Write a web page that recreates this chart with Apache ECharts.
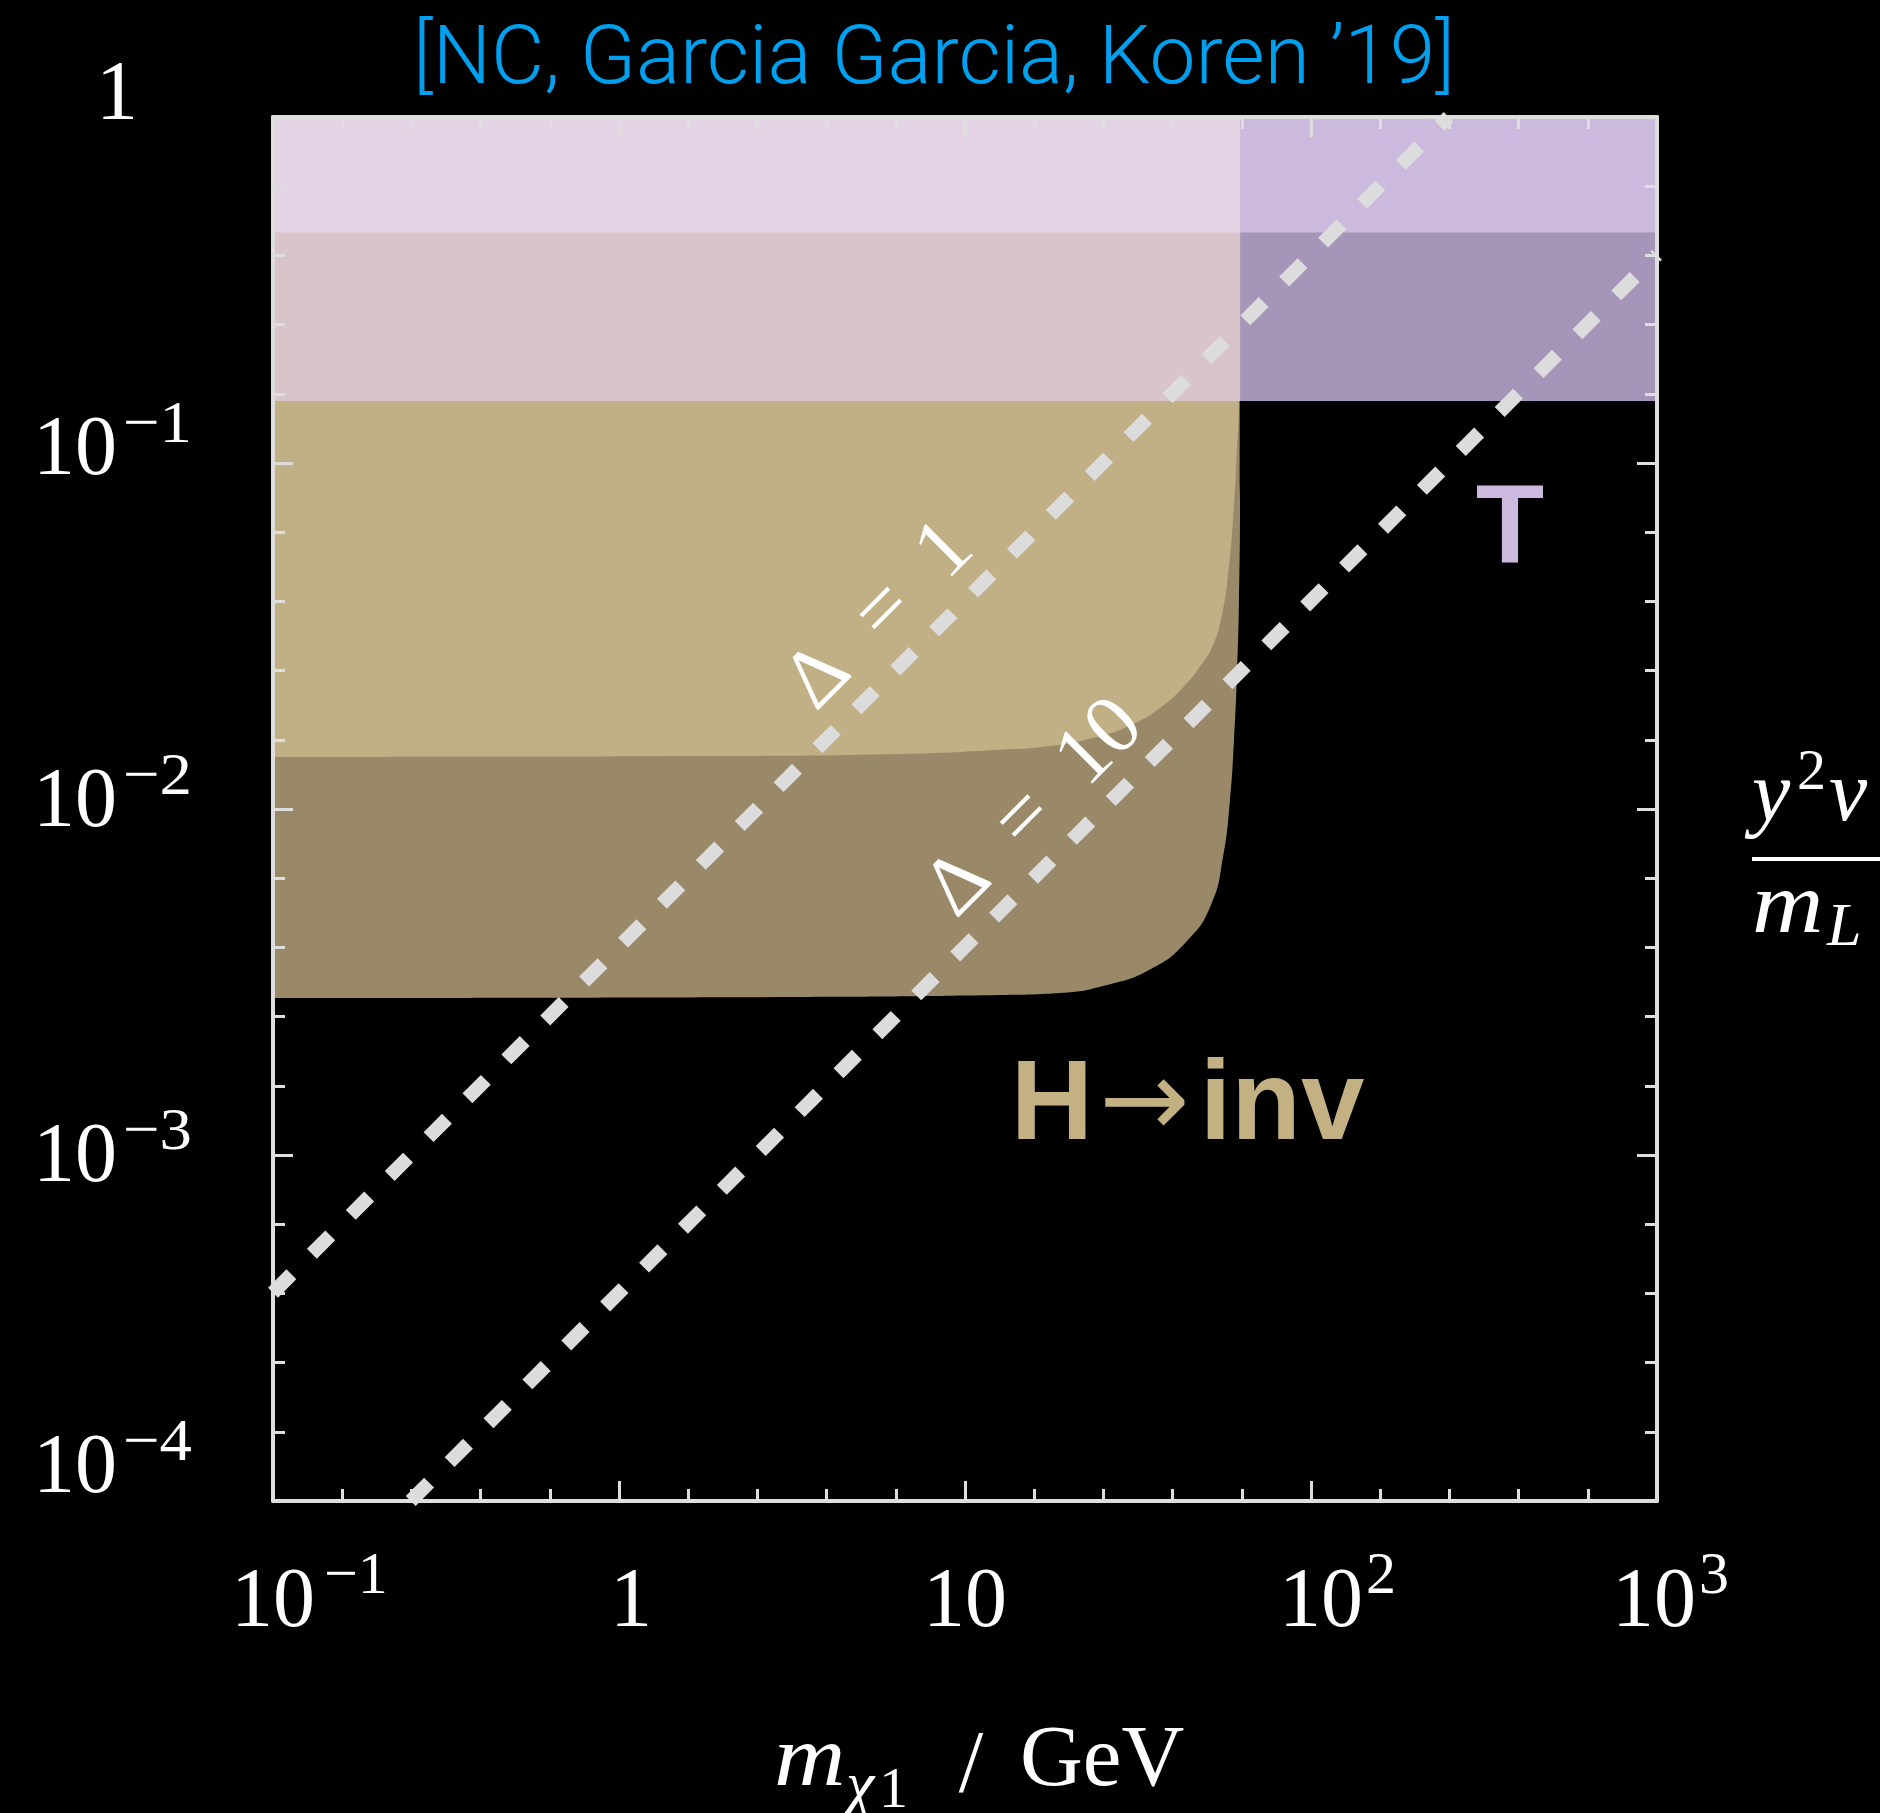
<!DOCTYPE html>
<html>
<head>
<meta charset="utf-8">
<script src="https://cdn.jsdelivr.net/npm/echarts@6/dist/echarts.min.js"></script>
<style>
  html, body { margin: 0; padding: 0; background: #000; }
  #chart { width: 1880px; height: 1813px; }
</style>
</head>
<body>
<div id="chart"></div>
<script>
// Axes: m_chi1 in GeV (log), y^2 v / m_L (log)
const xTickValues = [0.1, 1, 10, 100, 1000];
const xTickText = [['10', '\u22121'], ['1', ''], ['10', ''], ['10', '2'], ['10', '3']];
const yTickValues = [1, 0.1, 0.01, 0.001, 0.0001];
const yTickText = [['1', ''], ['10', '\u22121'], ['10', '\u22122'], ['10', '\u22123'], ['10', '\u22124']];

// H -> inv: excluded above each boundary [m_chi1, y^2 v / m_L]
const hinvStrong = [
  [0.1, 0.01413], [1.71, 0.01422], [6.48, 0.01442], [12.6, 0.01483], [17.6, 0.0152],
  [24.6, 0.01625], [30.6, 0.0176], [36.6, 0.0196], [42.7, 0.0225], [47.8, 0.0258],
  [52.1, 0.0298], [55.3, 0.0365], [57.5, 0.0470], [59.5, 0.0684], [61.1, 0.1091],
  [61.9, 0.15], [62.4, 1]
];
const hinvWeak = [
  [0.1, 0.002844], [3.33, 0.002864], [12.63, 0.002901], [18.82, 0.002939], [25.05, 0.003079],
  [34.48, 0.003449], [43.81, 0.004155], [51.40, 0.005279], [55.68, 0.007265], [58.32, 0.010617],
  [59.90, 0.015825], [61.11, 0.02472], [61.93, 0.04018], [62.35, 0.07817], [62.4, 1]
];
const hinvEdge = 62.4;

// T parameter: excluded above these values
const tWeak = 0.151;
const tStrong = 0.464;

// Delta = const lines
const delta1 = [[0.1, 0.0004], [250, 1]];
const delta10 = [[0.25, 0.0001], [1000, 0.4]];

// Annotation anchors [m_chi1, y^2 v / m_L]
const delta1Label = { text: '\u0394\u2002=\u20021', at: [5.7, 0.036] };
const delta10Label = { text: '\u0394\u2002=\u200210', at: [16, 0.0100] };
const tLabel = { text: 'T', at: [376, 0.0636] };
const hinvLabel = { text: '{b|H}{a|\u2192}{b|inv}', at: [44, 0.00137] };

const SERIF = '"Liberation Serif", "DejaVu Serif", serif';
const SANS = '"Liberation Sans", Arial, sans-serif';
const FRAME = '#dedede';

const lg = (p) => [Math.log10(p[0]), Math.log10(p[1])];

function region(points, color, smooth) {
  return {
    type: 'line', data: points.map(lg), symbol: 'none', silent: true,
    smooth: smooth || false,
    lineStyle: { width: 0, opacity: 0 },
    areaStyle: { origin: 'end', color: color, opacity: 1 },
    z: 2
  };
}
function dashed(points) {
  return {
    type: 'line', data: points.map(lg), symbol: 'none', silent: true,
    lineStyle: { color: '#dcdcdc', width: 14, type: [26, 29], cap: 'butt' },
    z: 4
  };
}
function note(lab, style) {
  return {
    type: 'scatter', data: [lg(lab.at)], symbolSize: 0, silent: true, z: 6,
    itemStyle: { opacity: 1 },
    label: Object.assign({ show: true, position: 'inside', formatter: lab.text, opacity: 1 }, style)
  };
}

function axisBase(extra) {
  return Object.assign({
    type: 'value', interval: 1,
    axisLine: { show: true, onZero: false, lineStyle: { color: FRAME, width: 4 } },
    axisTick: { show: true, inside: true, length: 20, lineStyle: { color: FRAME, width: 3 } },
    minorTick: { show: true, splitNumber: 5, length: 12, lineStyle: { color: FRAME, width: 3 } },
    axisLabel: { show: false },
    splitLine: { show: false },
    z: 10
  }, extra);
}

const chart = echarts.init(document.getElementById('chart'), null, { renderer: 'canvas' });

const HINV_COLOR = '#c3b083';
const option = {
  backgroundColor: '#000',
  animation: false,
  grid: { left: 273, top: 117, width: 1384, height: 1384 },
  xAxis: [
    axisBase({ min: -1, max: 3, position: 'bottom' }),
    axisBase({ min: -1, max: 3, position: 'top' })
  ],
  yAxis: [
    axisBase({ min: -4, max: 0, position: 'left' }),
    axisBase({ min: -4, max: 0, position: 'right' })
  ],
  series: [
    region(hinvWeak, '#998968', 0.5),
    region(hinvStrong, '#c1af86', 0.5),
    region([[0.1, tWeak], [1000, tWeak]], '#a595b9'),
    region([[0.1, tStrong], [1000, tStrong]], '#cbb9de'),
    region([[0.1, tWeak], [hinvEdge, tWeak]], '#d8c5ca'),
    region([[0.1, tStrong], [hinvEdge, tStrong]], '#e4d3e5'),
    dashed(delta1),
    dashed(delta10),
    note(delta1Label, { rotate: 45, color: '#fff', fontFamily: SERIF, fontSize: 84 }),
    note(delta10Label, { rotate: 45, color: '#fff', fontFamily: SERIF, fontSize: 84 }),
    note(tLabel, { color: '#cbb9de', fontFamily: SANS, fontWeight: 'bold', fontSize: 112 }),
    note(hinvLabel, {
      rich: {
        b: { color: HINV_COLOR, fontFamily: SANS, fontWeight: 'bold', fontSize: 114 },
        a: { color: HINV_COLOR, fontFamily: '"DejaVu Sans", sans-serif', fontWeight: 'normal',
             fontSize: 108, padding: [0, 10, 0, 6] }
      }
    })
  ]
};
chart.setOption(option);

// Tick labels and titles
const measureCtx = document.createElement('canvas').getContext('2d');
function textWidth(t, size, family) {
  measureCtx.font = size + 'px ' + family;
  return measureCtx.measureText(t).width;
}
const toPx = (x, y) => chart.convertToPixel({ seriesIndex: 0 }, [Math.log10(x), Math.log10(y)]);

function txt(x, y, text, size, opts, extra) {
  return Object.assign({
    type: 'text', x: x, y: y, silent: true, z: 20,
    style: Object.assign({
      text: text, fill: '#fff', fontFamily: SERIF, fontSize: size,
      align: 'center', verticalAlign: 'middle'
    }, opts || {})
  }, extra || {});
}

const BASE = 84, SUP = 60;
const graphics = [];
const gridLeft = toPx(0.1, 1)[0];
const gridBottom = toPx(0.1, 0.0001)[1];

// x tick labels
const xShift = [0, 12, 0, 10, -3];
xTickValues.forEach((v, i) => {
  const cx = toPx(v, 0.0001)[0] + xShift[i];
  const cy = gridBottom + 103;
  const [b, s] = xTickText[i];
  graphics.push(txt(cx, cy, b, BASE));
  if (s) {
    const w = textWidth(b, BASE, SERIF);
    const gap = s.charAt(0) === '\u2212' ? 9 : 3;
    graphics.push(txt(cx + w / 2 + gap, cy - 27, s, SUP, { align: 'left' }));
  }
});

// y tick labels
const yShift = [-20, -11, -5, 4, -31];
yTickValues.forEach((v, i) => {
  const cy = toPx(0.1, v)[1] + yShift[i];
  const [b, s] = yTickText[i];
  if (!s) {
    graphics.push(txt(gridLeft - 156, cy, b, BASE));
  } else {
    graphics.push(txt(gridLeft - 198, cy, b, BASE));
    graphics.push(txt(gridLeft - 150, cy - 26, s, SUP, { align: 'left' }, { scaleX: 1.08 }));
  }
});

// title
graphics.push(txt(934, 62, '[NC, Garcia Garcia, Koren \u201919]', 82,
  { fill: '#00a0ef', fontFamily: 'Roboto, "Liberation Sans", sans-serif', fontWeight: 300 }));

// x axis title: m_chi1 / GeV
const IT = { fontStyle: 'italic', align: 'left' };
graphics.push(txt(774, 1762, 'm', 86, IT, { scaleX: 1.15 }));
graphics.push(txt(846, 1788, '\u03c7', 64, IT));
graphics.push(txt(879, 1792, '1', 58, { align: 'left' }));
graphics.push(txt(971, 1768, '/', 88));
graphics.push(txt(1020, 1762, 'GeV', 87, { align: 'left' }));

// y axis title: y^2 v / m_L
graphics.push(txt(1752, 797, 'y', 86, IT));
graphics.push(txt(1797, 774, '2', 58, { align: 'left' }));
graphics.push(txt(1829, 797, 'v', 86, IT));
graphics.push({
  type: 'line', silent: true, z: 20,
  shape: { x1: 1752, y1: 859, x2: 1880, y2: 859 },
  style: { stroke: '#fff', lineWidth: 4 }
});
graphics.push(txt(1752, 909, 'm', 86, IT, { scaleX: 1.15 }));
graphics.push(txt(1827, 929, 'L', 62, IT));

chart.setOption({ graphic: graphics });
</script>
</body>
</html>
